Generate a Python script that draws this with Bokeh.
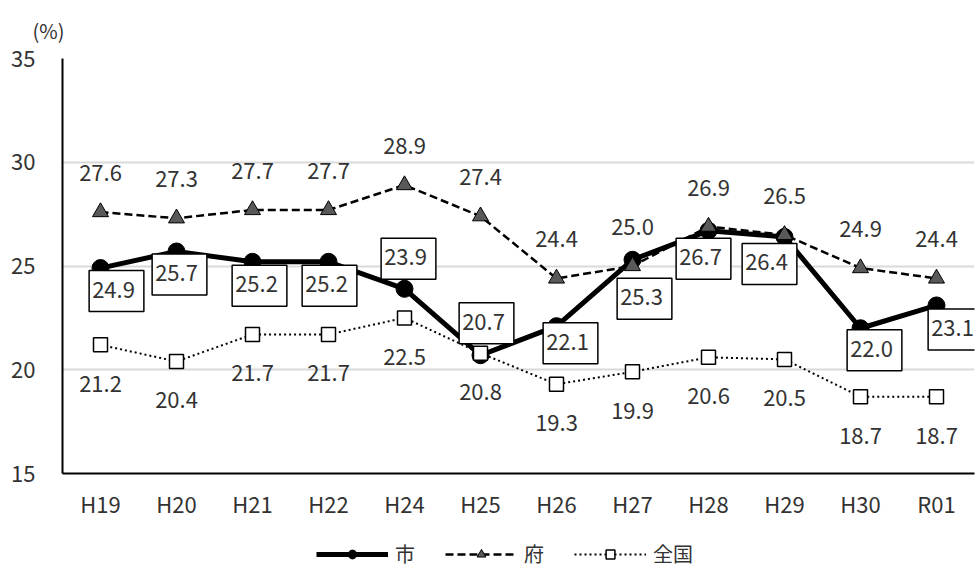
from bokeh.plotting import figure
from bokeh.layouts import column
from bokeh.models import (ColumnDataSource, Range1d, FixedTicker, Legend, LegendItem)
from bokeh.core.properties import value
from bokeh.embed import file_html
from bokeh.resources import INLINE

# ---- data ----
categories = ["H19", "H20", "H21", "H22", "H24", "H25", "H26", "H27", "H28", "H29", "H30", "R01"]
shi = [24.9, 25.7, 25.2, 25.2, 23.9, 20.7, 22.1, 25.3, 26.7, 26.4, 22.0, 23.1]      # 市
fu = [27.6, 27.3, 27.7, 27.7, 28.9, 27.4, 24.4, 25.0, 26.9, 26.5, 24.9, 24.4]       # 府
zenkoku = [21.2, 20.4, 21.7, 21.7, 22.5, 20.8, 19.3, 19.9, 20.6, 20.5, 18.7, 18.7]  # 全国
y_ticks = [15, 20, 25, 30, 35]
series_names = ["市", "府", "全国"]
unit_label = "(%)"

# label placement (screen px offsets of the boxed 市 labels)
shi_dx = [16, 3, 7, 1, 4, 6, 14, 12, -5, -15, 14, 19]
shi_dy = [23, 23, 24, 24, -30, -32, 17, 39, 28, 27, 22, 24]

FONT = "Noto Sans CJK JP"
TXT = "#333333"

# series styles
STY = [
    dict(line=dict(line_color="black", line_width=5),
         mark=dict(marker="circle", size=17, fill_color="black", line_color="black")),
    dict(line=dict(line_color="black", line_width=2.5, line_dash="8 4"),
         mark=dict(marker="triangle", size=16, fill_color="#595959", line_color="black", line_width=1)),
    dict(line=dict(line_color="black", line_width=2, line_dash="2 3"),
         mark=dict(marker="square", size=14, fill_color="white", line_color="black", line_width=1.5)),
]

xs = list(range(len(categories)))

p = figure(width=976, height=541, output_backend="svg", toolbar_location=None,
           x_range=Range1d(-0.5, 11.5), y_range=Range1d(15, 35),
           min_border_left=62, min_border_right=2, min_border_top=57, min_border_bottom=68)
p.outline_line_color = None
p.background_fill_color = "white"

# unit label as title
p.title.text = unit_label
p.title.align = "left"
p.title.offset = -30
p.title.standoff = 27
p.title.text_font = FONT
p.title.text_font_size = "20px"
p.title.text_font_style = "normal"
p.title.text_color = TXT

# axes
p.xaxis.ticker = FixedTicker(ticks=xs)
p.xaxis.major_label_overrides = {i: c for i, c in zip(xs, categories)}
p.yaxis.ticker = FixedTicker(ticks=y_ticks)
for ax in (p.xaxis, p.yaxis):
    ax.axis_line_color = "black"
    ax.axis_line_width = 2
    ax.major_tick_line_color = None
    ax.minor_tick_line_color = None
    ax.major_label_text_font = FONT
    ax.major_label_text_font_size = "22px"
    ax.major_label_text_color = TXT
p.xaxis.major_label_standoff = 7
p.yaxis.major_label_standoff = 21
p.xgrid.grid_line_color = None
p.ygrid.grid_line_color = "#d9d9d9"
p.ygrid.grid_line_width = 2

src = ColumnDataSource(dict(x=xs, shi=shi, fu=fu, zen=zenkoku,
                            shi_t=[f"{v:.1f}" for v in shi],
                            fu_t=[f"{v:.1f}" for v in fu],
                            zen_t=[f"{v:.1f}" for v in zenkoku],
                            dx=shi_dx, dy=shi_dy))

cols = ["shi", "fu", "zen"]
for col, st in zip(cols, STY):
    p.line("x", col, source=src, **st["line"])
    p.scatter("x", col, source=src, **st["mark"])

# data labels
p.text("x", "fu", text="fu_t", source=src, y_offset=-39, text_align="center",
       text_baseline="middle", text_font=value(FONT), text_font_size="22px", text_color=TXT)
p.text("x", "zen", text="zen_t", source=src, y_offset=39, text_align="center",
       text_baseline="middle", text_font=value(FONT), text_font_size="22px", text_color=TXT)
p.text("x", "shi", text="shi_t", source=src, x_offset="dx", y_offset="dy", text_align="center",
       text_baseline="middle", text_font=value(FONT), text_font_size="22px", text_color=TXT,
       background_fill_color="white", border_line_color="black", border_line_width=1.5,
       padding=dict(left=3, right=9, top=11, bottom=14))

# legend strip below the chart (same series, viewed outside their range so only the legend shows)
pl = figure(width=976, height=30, output_backend="svg", toolbar_location=None,
            x_axis_type=None, y_axis_type=None,
            x_range=Range1d(-100, -99), y_range=Range1d(-100, -99), min_border=0)
pl.grid.visible = False
pl.outline_line_color = None
items = []
for name, col, st in zip(series_names, cols, STY):
    lr = pl.line("x", col, source=src, **st["line"])
    mr = pl.scatter("x", col, source=src, **st["mark"])
    items.append(LegendItem(label=name, renderers=[lr, mr]))
legend = Legend(items=items, location=(254, 3), orientation="horizontal", spacing=30,
                label_standoff=7, glyph_width=72, glyph_height=22, label_height=22,
                label_text_font=FONT, label_text_font_size="20px", label_text_color=TXT,
                border_line_alpha=0, background_fill_alpha=0, padding=0, margin=0)
pl.add_layout(legend, "center")

layout = column(p, pl, spacing=0)
open("out.html", "w").write(file_html(layout, INLINE))
